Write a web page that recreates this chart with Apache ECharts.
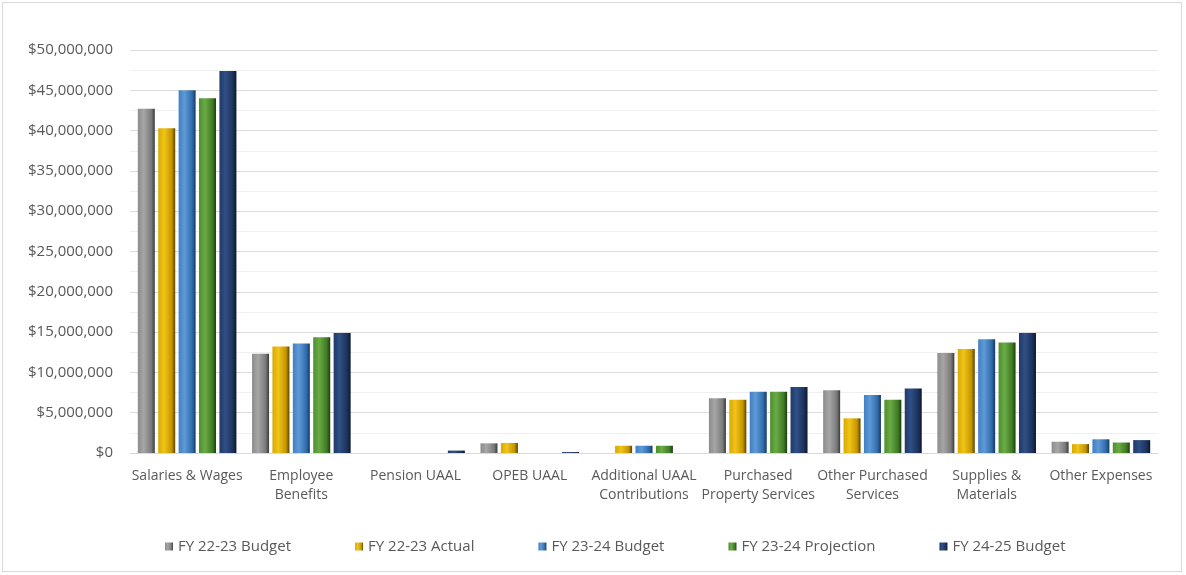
<!DOCTYPE html>
<html>
<head>
<meta charset="utf-8">
<script src="https://cdn.jsdelivr.net/npm/echarts@6/dist/echarts.min.js"></script>
<style>
html,body{margin:0;padding:0;background:#fff;}
#wrap{position:absolute;left:2px;top:2px;width:1180px;height:570px;border:1px solid #d9d9d9;box-sizing:border-box;}
#chart{position:absolute;left:0;top:0;width:1186px;height:575px;}
</style>
</head>
<body>
<div id="wrap"></div>
<div id="chart"></div>
<script>
const categories = ['Salaries & Wages','Employee\nBenefits','Pension UAAL','OPEB UAAL','Additional UAAL\nContributions','Purchased\nProperty Services','Other Purchased\nServices','Supplies &\nMaterials','Other Expenses'];
const seriesNames = ['FY 22-23 Budget','FY 22-23 Actual','FY 23-24 Budget','FY 23-24 Projection','FY 24-25 Budget'];
const budget2223 = [42700000, 12300000, 0, 1200000, 0, 6800000, 7800000, 12400000, 1400000];
const actual2223 = [40300000, 13200000, 0, 1250000, 900000, 6600000, 4300000, 12900000, 1100000];
const budget2324 = [45000000, 13600000, 0, 0, 900000, 7600000, 7200000, 14100000, 1700000];
const proj2324   = [44000000, 14350000, 0, 0, 900000, 7600000, 6600000, 13700000, 1300000];
const budget2425 = [47400000, 14900000, 300000, 120000, 0, 8200000, 8000000, 14900000, 1600000];
const yTicks = {min: 0, max: 50000000, interval: 5000000};

const palettes = [
  ['#8c8c8c','#a6a6a6','#7a7a7a','#3a3a3a'],
  ['#d9a900','#f0c419','#c49400','#5a4300'],
  ['#3f7fc4','#5f9ad6','#2f6aac','#17385c'],
  ['#4d8f2e','#6aab44','#3f7a25','#1d3d10'],
  ['#203a68','#2f4f86','#1c325a','#0b1630']
];
function grad(p){
  return {type:'linear',x:0,y:0,x2:1,y2:0,colorStops:[
    {offset:0,color:p[0]},{offset:0.35,color:p[1]},{offset:0.8,color:p[2]},{offset:1,color:p[3]}]};
}
const allData = [budget2223, actual2223, budget2324, proj2324, budget2425];
const font = '"Open Sans", sans-serif';
const chart = echarts.init(document.getElementById('chart'));
chart.setOption({
  animation:false,
  textStyle:{fontFamily:font},
  grid:{left:130,right:28,top:50,bottom:122},
  legend:{
    bottom:16, left:160, itemWidth:8, itemHeight:8, itemGap:64,
    icon:'rect',
    textStyle:{color:'#595959',fontSize:15,fontFamily:font},
    data: seriesNames
  },
  xAxis:{
    type:'category', data:categories,
    axisLine:{lineStyle:{color:'#d9d9d9'}},
    axisTick:{show:false},
    axisLabel:{color:'#595959',fontSize:14,fontFamily:font,interval:0,lineHeight:19,margin:14}
  },
  yAxis:{
    type:'value', min:yTicks.min, max:yTicks.max, interval:yTicks.interval,
    axisLine:{show:false}, axisTick:{show:false},
    splitLine:{lineStyle:{color:'#dcdcdc'}},
    minorTick:{show:false,splitNumber:2},
    minorSplitLine:{show:true,lineStyle:{color:'#f0f0f0'}},
    axisLabel:{color:'#595959',fontSize:15,fontFamily:font,margin:17,
      formatter:v=>'$'+v.toLocaleString('en-US')}
  },
  series: seriesNames.map((n,i)=>({
    name:n, type:'bar', data:allData[i],
    barWidth:17, barGap:'20%',
    itemStyle:{color:grad(palettes[i])}
  }))
});
</script>
</body>
</html>
